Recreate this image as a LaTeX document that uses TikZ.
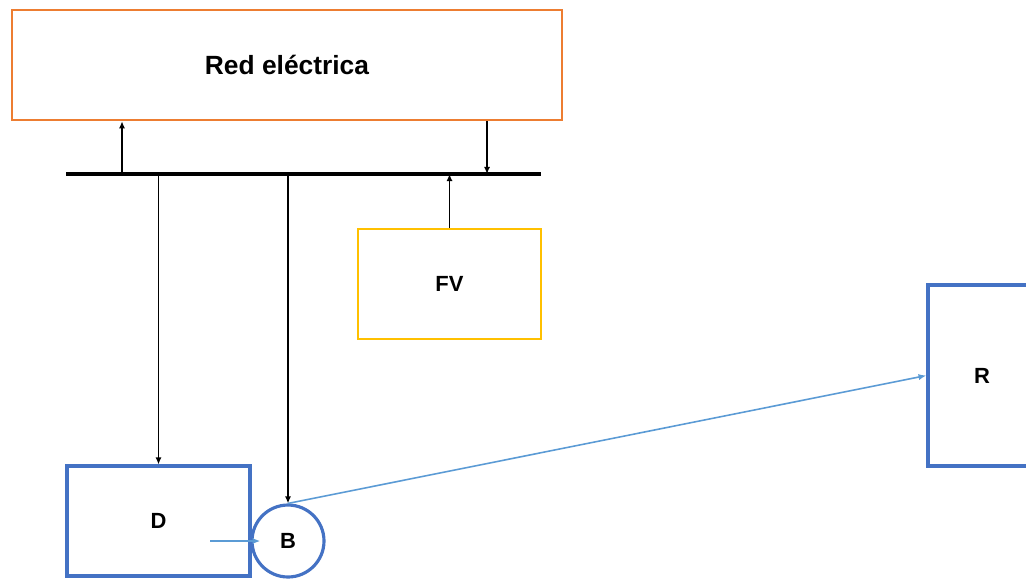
\documentclass[tikz,border=0pt]{standalone}
\usepackage{fontspec}
\setmainfont{Liberation Sans}
\usetikzlibrary{arrows.meta,calc}
\definecolor{gridorange}{HTML}{ED7D31}
\definecolor{pvgold}{HTML}{FFC000}
\definecolor{unitblue}{HTML}{4472C4}
\definecolor{linkblue}{HTML}{5B9BD5}
\tikzset{
    box/.style={draw, line width=1.5pt, minimum width=3.66cm,
                minimum height=2.2cm, inner sep=4pt, align=center,
                font=\bfseries\fontsize{12.5}{15}\selectfont},
    gridbox/.style={box, draw=gridorange, minimum width=11cm,
                    font=\bfseries\fontsize{15}{18}\selectfont},
    pvbox/.style={box, draw=pvgold},
    unit/.style={box, draw=unitblue, line width=1.8pt},
    store/.style={unit, circle, minimum width=1.44cm, minimum height=1.44cm,
                  inner sep=0pt},
    flow/.style={-{Latex[length=4pt,width=3.5pt]}, line width=0.8pt},
    link/.style={-{Latex[length=4.5pt,width=3.5pt]}, line width=0.9pt, draw=linkblue},
    busbar/.style={line width=2pt},
}
\begin{document}
\begin{tikzpicture}[x=0.02cm, y=-0.02cm]
    \useasboundingbox (0,0) rectangle (1026,578);

    \node[gridbox] (red) at (287,65) {Red eléctrica};
    \node[pvbox] (fv) at (449.5,284) {FV};
    \node[unit] (d) at (158.5,521) {D};
    \node[store] (b) at (288,541) {B};
    \node[unit, minimum width=2.16cm, minimum height=3.62cm] (r) at (982,375.5) {R};

    % bus bar
    \coordinate (busL) at (66,174);
    \coordinate (busR) at (541,174);
    \coordinate (tapup) at (122,174);
    \coordinate (tapdown) at (487,174);
    \draw[busbar] (busL) -- (busR);

    \draw[flow] (tapup) -- (tapup |- red.south);
    \draw[flow] (tapdown |- red.south) -- (tapdown);
    \draw[flow] (fv.north) -- (fv.north |- busL);
    \draw[flow] (d.north |- busL) -- (d.north);
    \draw[flow] (b.north |- busL) -- (b.north);

    \coordinate (dout) at (210,541);
    \draw[link] (dout) -- ([xshift=0.2cm]b.west);
    \draw[link] (b.north) -- (r.west);

\end{tikzpicture}
\end{document}
